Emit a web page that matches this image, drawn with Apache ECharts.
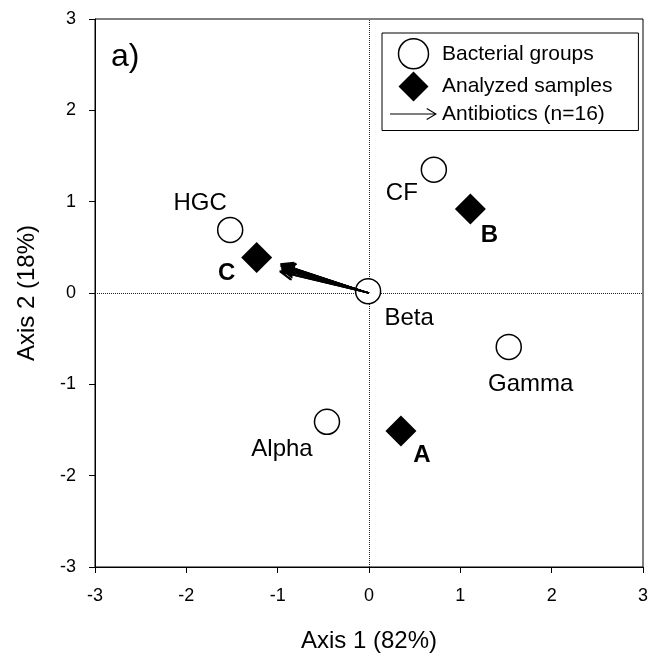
<!DOCTYPE html>
<html>
<head>
<meta charset="utf-8">
<script src="https://cdn.jsdelivr.net/npm/echarts@6/dist/echarts.min.js"></script>
<style>
  html, body { margin: 0; padding: 0; background: #fff; }
  #chart { width: 660px; height: 664px; }
</style>
</head>
<body>
<div id="chart"></div>
<script>
// bacterial groups (open circles)
var groupNames = ['HGC', 'CF', 'Beta', 'Gamma', 'Alpha'];
var groupX = [-1.52, 0.71, -0.01, 1.53, -0.46];
var groupY = [0.69, 1.35, 0.02, -0.59, -1.41];

// analyzed samples (black diamonds)
var sampleNames = ['C', 'B', 'A'];
var sampleX = [-1.23, 1.11, 0.35];
var sampleY = [0.39, 0.92, -1.51];

// antibiotic vectors (n=16), all drawn from the origin
var abX = [-0.96, -0.95, -0.94, -0.96, -0.95, -0.93, -0.94, -0.95, -0.97, -0.96, -0.95, -0.94, -0.96, -0.95, -0.97, -0.96];
var abY = [0.32, 0.31, 0.30, 0.29, 0.28, 0.30, 0.31, 0.27, 0.24, 0.23, 0.26, 0.29, 0.30, 0.25, 0.23, 0.31];

// axis ticks
var tickValues = [-3, -2, -1, 0, 1, 2, 3];

var FONT = "'Liberation Sans', Arial, sans-serif";

// where each point label sits relative to its marker (px)
var labelOffset = {
  HGC: [-30, -27], CF: [-32, 24], Beta: [41, 27], Gamma: [22, 37], Alpha: [-45, 28],
  C: [-30, 16], B: [19, 26], A: [21, 24]
};

var arrowIcon = 'path://M0,5.4 L45,5.4 L45,6.6 L0,6.6 Z M37,0 L47,6 L37,12 L36.4,11 L45,6 L36.4,1 Z';
var diamondIcon = 'path://M15,0 L30,15 L15,30 L0,15 Z';

var chart = echarts.init(document.getElementById('chart'));

var axisCommon = {
  type: 'value',
  min: tickValues[0],
  max: tickValues[tickValues.length - 1],
  interval: 1,
  splitLine: { show: false },
  axisLine: { show: true, onZero: false, lineStyle: { color: '#000', width: 1 } },
  axisTick: { show: true, inside: false, length: 6, lineStyle: { color: '#000' } },
  nameLocation: 'middle',
  nameTextStyle: { fontFamily: FONT, fontSize: 24, color: '#000' },
};

chart.setOption({
  animation: false,
  backgroundColor: '#fff',
  textStyle: { fontFamily: FONT },
  title: {
    text: 'a)',
    left: 106,
    top: 36,
    textStyle: { fontFamily: FONT, fontSize: 32, fontWeight: 'normal', color: '#000' },
  },
  grid: {
    left: 95,
    right: 17,
    top: 19,
    bottom: 97,
    show: true,
    borderColor: '#000',
    borderWidth: 1,
  },
  legend: {
    orient: 'vertical',
    left: 382,
    top: 33,
    padding: [5, 26, 6, 8],
    itemWidth: 47,
    itemHeight: 30,
    itemGap: 2,
    symbolKeepAspect: true,
    borderColor: '#000',
    borderWidth: 1,
    backgroundColor: '#fff',
    textStyle: { fontFamily: FONT, fontSize: 21, color: '#000' },
    data: [
      { name: 'Bacterial groups', icon: 'circle', itemStyle: { color: '#fff', borderColor: '#000', borderWidth: 1.5 } },
      { name: 'Analyzed samples', icon: diamondIcon, itemStyle: { color: '#000', borderWidth: 0 } },
      { name: 'Antibiotics (n=16)', icon: arrowIcon, itemStyle: { color: '#000', borderWidth: 0 } },
    ],
  },
  xAxis: Object.assign({}, axisCommon, {
    name: 'Axis 1 (82%)',
    nameGap: 62,
    axisLabel: { fontFamily: FONT, fontSize: 18, color: '#000', margin: 20 },
  }),
  yAxis: Object.assign({}, axisCommon, {
    name: 'Axis 2 (18%)',
    nameGap: 56,
    axisLabel: { fontFamily: FONT, fontSize: 18, color: '#000', margin: 19 },
  }),
  series: [
    {
      name: 'Bacterial groups',
      type: 'scatter',
      symbol: 'circle',
      symbolSize: 25,
      z: 3,
      itemStyle: { color: '#fff', borderColor: '#000', borderWidth: 1.5, opacity: 1 },
      label: {
        show: true,
        position: 'inside',
        formatter: '{b}',
        fontFamily: FONT,
        fontSize: 24,
        color: '#000',
      },
      data: groupNames.map(function (n, i) {
        return { name: n, value: [groupX[i], groupY[i]], label: { offset: labelOffset[n] } };
      }),
      markLine: {
        silent: true,
        symbol: 'none',
        label: { show: false },
        lineStyle: { color: '#222', type: 'dotted', width: 1 },
        data: [{ xAxis: 0 }, { yAxis: 0 }],
        z: 1,
      },
    },
    {
      name: 'Analyzed samples',
      type: 'scatter',
      symbol: 'diamond',
      symbolSize: 31,
      z: 3,
      itemStyle: { color: '#000', opacity: 1 },
      label: {
        show: true,
        position: 'inside',
        formatter: '{b}',
        fontFamily: FONT,
        fontSize: 24,
        fontWeight: 'bold',
        color: '#000',
      },
      data: sampleNames.map(function (n, i) {
        return { name: n, value: [sampleX[i], sampleY[i]], label: { offset: labelOffset[n] } };
      }),
    },
    {
      name: 'Antibiotics (n=16)',
      type: 'custom',
      z: 4,
      renderItem: function (params, api) {
        var o = api.coord([0, 0]);
        var p = api.coord([api.value(0), api.value(1)]);
        var ang = Math.atan2(p[1] - o[1], p[0] - o[0]);
        var len = 13, spread = 0.42;
        var h1 = [p[0] - len * Math.cos(ang - spread), p[1] - len * Math.sin(ang - spread)];
        var h2 = [p[0] - len * Math.cos(ang + spread), p[1] - len * Math.sin(ang + spread)];
        return {
          type: 'group',
          children: [
            { type: 'line', shape: { x1: o[0], y1: o[1], x2: p[0], y2: p[1] }, style: { stroke: '#000', lineWidth: 1.3 } },
            { type: 'polyline', shape: { points: [h1, p, h2] }, style: { stroke: '#000', fill: 'none', lineWidth: 1.3 } },
          ],
        };
      },
      data: abX.map(function (x, i) { return [x, abY[i]]; }),
    },
  ],
});
</script>
</body>
</html>
